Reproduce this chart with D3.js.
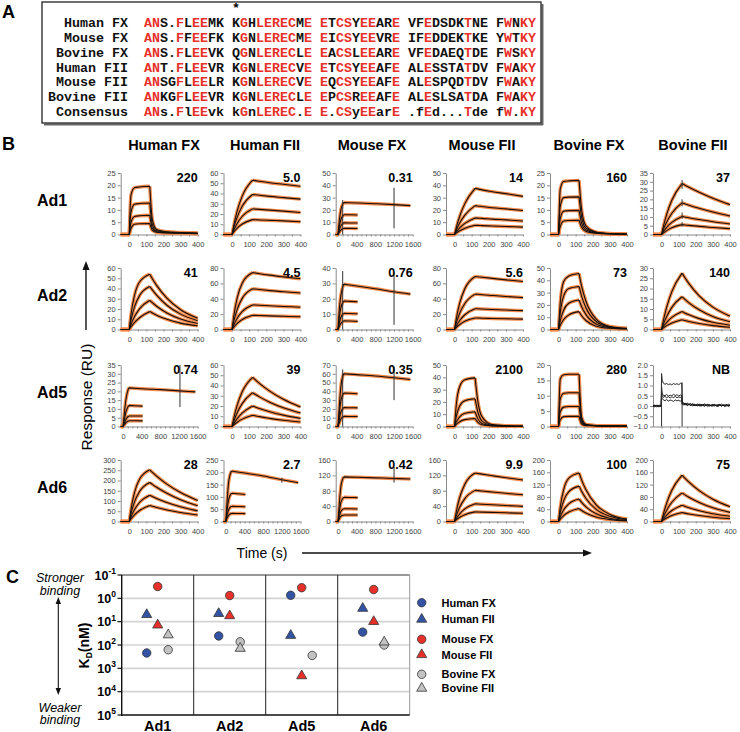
<!DOCTYPE html>
<html><head><meta charset="utf-8">
<script src="https://cdn.jsdelivr.net/npm/d3@7"></script>
<style>
body{margin:0;background:#fff}
svg{display:block}
text{font-family:"Liberation Sans",Arial,sans-serif}
.mono{font-family:"Liberation Mono","Courier New",monospace;font-weight:bold;font-size:13.33px}
.ax .domain,.ax line{stroke:#8a8a8a;stroke-width:1}
.ax text{fill:#444;font-size:7.5px;font-family:"Liberation Sans",Arial,sans-serif}
</style></head>
<body><svg id="c" width="740" height="732"></svg>
<script>
// ---------------- DATA ----------------
const seqNames = ["Human FX","Mouse FX","Bovine FX","Human FII","Mouse FII","Bovine FII","Consensus"];
const seqs = [
 "ANS.FLEEMK KGHLERECME ETCSYEEARE VFEDSDKTNE FWNKY",
 "ANS.FFEEFK KGNLERECME EICSYEEVRE IFEDDEKTKE YWTKY",
 "ANS.FLEEVK QGNLERECLE EACSLEEARE VFEDAEQTDE FWSKY",
 "ANT.FLEEVR KGNLERECVE ETCSYEEAFE ALESSTATDV FWAKY",
 "ANSGFLEELR KGNLERECVE EQCSYEEAFE ALESPQDTDV FWAKY",
 "ANKGFLEEVR KGNLERECLE EPCSREEAFE ALESLSATDA FWAKY",
 "ANs.FlEEvk kGnLEREC.E E.CSyEEarE .fEd...Tde fW.KY"];

const rowNames = ["Ad1","Ad2","Ad5","Ad6"];
const colNames = ["Human FX","Human FII","Mouse FX","Mouse FII","Bovine FX","Bovine FII"];
const kdText = [["220","5.0","0.31","14","160","37"],
                ["41","4.5","0.76","5.6","73","140"],
                ["0.74","39","0.35","2100","280","NB"],
                ["28","2.7","0.42","9.9","100","75"]];
const yTop    = [[25,60,50,50,25,35],[60,80,40,80,50,30],[35,60,70,50,20,2],[300,250,160,160,200,200]];
const yStep   = [[5,10,10,10,5,5],[10,20,10,20,10,5],[5,10,10,10,5,0.5],[50,50,40,40,40,40]];
const yBottom = [[0,0,0,0,0,0],[0,0,0,0,0,0],[0,0,0,0,0,-1],[0,0,0,0,0,0]];
const longRun = [[0,0,1,0,0,0],[0,0,1,0,0,0],[1,0,1,0,0,0],[0,1,1,0,0,0]];

const T_SHORT    = [-50,0,10,30,60,120,135,160,220,300,400];
const T_LONG_TOP = [-50,0,30,60,120,400,800,1200,1550];
const T_LONG_LOW = [-50,0,30,60,120,250,420];

const curvesAd1 = [
 [[0,0,16,19,19.3,19.6,6,2,1.1,0.8,0.6],[0,0,9,12.3,12.6,12.8,4,1.5,0.9,0.7,0.5],[0,0,4.8,7.3,7.6,7.8,2.6,1.1,0.7,0.6,0.4],[0,0,2.4,4.2,4.4,4.5,1.7,0.9,0.6,0.5,0.3]],
 [[0,0,8.8,23,37.7,53,52.6,52,50.5,49,47],[0,0,6.5,16.9,27.7,39,38.8,38.3,37.2,36,34.5],[0,0,4.2,10.8,17.8,25,24.8,24.5,23.8,22.8,21.5],[0,0,2.4,6.3,10.3,14.5,14.4,14.2,13.8,13.3,12.5]],
 [[0,0,12,20,26,25.6,25,24.3,23.5],[0,0,7,12,16,16,15.8],[0,0,4,7,9.5,9.4,9.3],[0,0,2,3.6,5,5,4.9]],
 [[0,0,5.5,14.8,25.1,37.5,37.1,36.3,34.8,33.2,31],[0,0,3.5,9.3,15.7,23.5,23.2,22.8,21.8,20.8,19.5],[0,0,2,5.3,9,13.5,13.3,13.1,12.5,11.9,11],[0,0,1.1,3,5,7.5,7.4,7.2,6.9,6.5,6]],
 [[0,0,18.5,21.6,21.8,22,10,3.5,1,0.4,0.2],[0,0,11.5,15,15.2,15.3,7,2.6,0.8,0.3,0.2],[0,0,6.5,9.5,9.7,9.8,4.6,1.8,0.6,0.3,0.1],[0,0,3.3,5.5,5.7,5.8,2.9,1.2,0.5,0.2,0.1]],
 [[0,0,4.3,11.5,19.5,29,28.2,26.9,24,20.6,17],[0,0,2.7,7.1,12.1,18,17.5,16.7,14.9,12.8,10.5],[0,0,1.5,4.1,6.9,10.3,10,9.5,8.5,7.3,6],[0,0,0.8,2.2,3.8,5.6,5.4,5.2,4.6,4,3.3]]
];
const curvesAd2 = [
 [[0,0,14.4,32.8,46.3,54,49.6,43,30.5,19.3,11],[0,0,8.9,21.8,33.1,42,38.6,33.5,23.7,15,8.6],[0,0,4.8,12.4,20.2,28.5,26.2,22.7,16.1,10.2,5.8],[0,0,2.5,6.7,11.5,17.5,16.1,13.9,9.9,6.2,3.6]],
 [[0,0,17.2,41.2,60.6,74,73.5,72.6,70.7,68.5,66],[0,0,10.5,26.3,40.8,53,52.7,52,50.6,49.2,47.5],[0,0,5.7,14.7,23.5,32,31.8,31.5,30.8,30,29],[0,0,3.1,8,13.1,18.5,18.4,18.2,17.7,17.2,16.5]],
 [[0,0,14,22,29.5,28.3,26.5,24.5,23],[0,0,8.5,14,18.5,18.3,18],[0,0,4.5,7.8,10.5,10.4,10.2],[0,0,2.3,4,5.6,5.5,5.3]],
 [[0,0,13.7,34.2,53.1,69,68.7,68,66.5,64.6,62.5],[0,0,8.2,21.2,33.8,46,45.8,45.3,44.3,43,41.5],[0,0,4.5,11.7,19.2,27,26.9,26.6,26,25.3,24.5],[0,0,2.5,6.5,10.7,15,14.9,14.7,14.4,14,13.5]],
 [[0,0,22,39,43.5,45.5,35,23,8.5,2.5,1],[0,0,13.7,27.3,33.3,35,27,17.7,6.5,2,0.8],[0,0,7.2,15.8,21.4,24,18.5,12.1,4.5,1.5,0.6],[0,0,3.4,8.1,11.9,14.5,11.2,7.3,2.7,1,0.4]],
 [[0,0,4.1,10.9,18.5,27.5,25.5,22.4,16.4,10.9,6.5],[0,0,2.4,6.3,10.8,16,14.8,13,9.6,6.3,3.8],[0,0,1.3,3.5,5.9,8.8,8.1,7.2,5.3,3.5,2.1],[0,0,0.7,1.9,3.2,4.8,4.4,3.9,2.9,1.9,1.1]]
];
const curvesAd5 = [
 [[0,0,8,15,22,21.5,21,20.3,19.7],[0,0,4,8,12,11.8,11.6],[0,0,2,4,6,6,6],[0,0,1,2.1,3.3,3.3,3.2]],
 [[0,0,8,20.8,34.1,48,45.7,42,34.5,26.5,19],[0,0,5.1,13.5,22.6,33,31.4,28.9,23.7,18.2,13.1],[0,0,2.8,7.7,13.2,20,19,17.5,14.4,11.1,7.9],[0,0,1.6,4.2,7.2,11,10.5,9.6,7.9,6.1,4.4]],
 [[0,0,25,45,60,59,57.5,55.5,53.5],[0,0,16,29,38,37.8,37.2],[0,0,9,16.5,21.5,21.4,21.2],[0,0,4.5,8.5,11.5,11.4,11.3]],
 [[0,0,17.5,32.5,38,39.5,21.5,8,1.5,0.6,0.3],[0,0,8.1,16.7,21,22.5,12.4,4.6,1,0.5,0.2],[0,0,3.6,7.9,10.7,12,6.6,2.5,0.6,0.3,0.1],[0,0,1.7,3.9,5.6,6.5,3.6,1.4,0.4,0.2,0.1]],
 [[0,0,15.5,16.8,17,17,3,0.7,0.3,0.2,0.2],[0,0,9,10.8,11,11,2,0.5,0.3,0.2,0.1],[0,0,4.8,6.3,6.5,6.5,1.3,0.4,0.2,0.1,0.1],[0,0,2.2,3.2,3.3,3.3,0.8,0.3,0.2,0.1,0.1]],
 []
];
const curvesAd6 = [
 [[0,0,58.7,140,206,252,240,221.5,182.5,141,102],[0,0,37.8,94.2,146,190,181,167,137.6,106,77],[0,0,22.2,57.2,92.6,128,122,112.5,92.7,71.5,51.8],[0,0,12,31.9,53.5,78,74.3,68.6,56.5,43.6,31.6]],
 [[0,0,90,160,205,197,185,170,158],[0,0,50,88,115,113,110],[0,0,27,48,62,61,60],[0,0,14,25,33,32.5,32]],
 [[0,0,50,90,116,115,113.5,112,110.5],[0,0,27,49,63,62.5,62],[0,0,14,26,33,33,32.5],[0,0,7.5,13.5,17,17,16.8]],
 [[0,0,25,62.5,97,126,125,123.2,119.2,114,108],[0,0,14.5,37.3,59.5,81,80.4,79.2,76.6,73.3,69.4],[0,0,7.7,20,32.7,46,45.6,45,43.5,41.6,39.4],[0,0,4.2,10.9,17.8,25,24.8,24.5,23.7,22.6,21.4]],
 [[0,0,47.3,104,141,158,134.6,103,54.2,23,8],[0,0,29.1,67.7,97,115,98,75,39.4,16.8,5.8],[0,0,15.5,38,57.6,73,62.2,47.6,25,10.7,3.7],[0,0,7.5,19.3,30.8,42,35.8,27.4,14.4,6.1,2.1]],
 [[0,0,22.3,59.8,101.5,151,141.9,128.2,100.3,72.2,48],[0,0,13.8,36.8,62.5,93,87.4,79,61.8,44.5,29.6],[0,0,7.8,21,35.6,53,49.8,45,35.2,25.3,16.9],[0,0,4.3,11.5,19.5,29,27.3,24.6,19.3,13.9,9.2]]
];
const curvesAll = [curvesAd1, curvesAd2, curvesAd5, curvesAd6];

// vertical artefact spikes: [time, yFrom, yTo]
const spikesAd1 = [[],[],[[100,0,28],[1200,5,38]],[],[],[[120,26,31],[120,16,20],[120,9,12.5],[120,4.5,7]]];
const spikesAd2 = [[],[],[[100,0,38],[1200,3,37]],[],[],[]];
const spikesAd5 = [[[1220,11,35]],[],[[100,0,65],[1200,30,68]],[],[],[[0,-1,1.6],[120,-1,1.15]]];
const spikesAd6 = [[],[[1200,158,178]],[[1200,101,142]],[],[],[]];
const spikesAll = [spikesAd1, spikesAd2, spikesAd5, spikesAd6];

// non-binding (NB) raw traces, Ad5 / Bovine FII
const nbTimes = [-50,-40,-30,-20,-10,-2,0,4,10,20,30,40,50,60,70,80,90,100,110,118,121,130,140,150,160,170,180,190,200,210,220,230,240,250,260,270,280,290,300,310,320,330,340,350,360,370,380,390,400];
const nb1 = [0.02,-0.05,0.04,-0.02,0.05,-0.03,1.55,1.25,1.12,1.06,1.1,1.04,1.08,1.03,1.1,1.05,1.09,1.04,1.1,1.12,0.2,0.15,0.1,0.14,0.08,0.12,0.05,0.1,0.04,0.09,0.02,0.08,0.05,0.1,0.03,0.07,0.0,0.06,0.04,0.08,0.01,0.07,0.03,0.09,0.02,0.06,0.0,0.08,0.05];
const nb2 = [0.01,0.03,-0.04,0.02,-0.03,0.04,0.95,0.6,0.52,0.5,0.56,0.48,0.53,0.5,0.57,0.51,0.55,0.49,0.54,0.52,0.12,0.08,0.13,0.04,0.1,0.02,0.09,0.0,0.07,0.03,0.1,-0.02,0.06,0.01,0.08,-0.03,0.05,0.02,0.09,-0.01,0.06,0.0,0.07,-0.02,0.05,0.03,0.08,-0.01,0.04];
const nb3 = [-0.02,0.04,0.01,-0.04,0.02,0.0,0.7,0.5,0.42,0.47,0.4,0.46,0.39,0.45,0.41,0.47,0.4,0.44,0.42,0.46,0.08,0.14,0.05,0.1,0.07,0.03,0.11,0.05,0.02,0.08,0.0,0.06,0.03,0.09,0.01,0.05,0.07,-0.01,0.04,0.06,0.0,0.05,0.08,0.02,0.04,-0.02,0.06,0.03,0.01];
const nb4 = [0.03,-0.02,0.02,0.04,-0.04,0.02,0.45,0.35,0.3,0.26,0.31,0.24,0.29,0.27,0.22,0.3,0.25,0.28,0.23,0.3,0.1,0.05,0.09,0.02,0.07,0.1,0.0,0.06,0.04,0.0,0.07,0.02,0.05,-0.02,0.04,0.08,0.01,0.03,-0.01,0.05,0.02,-0.03,0.04,0.01,0.06,-0.02,0.03,0.0,0.02];
const nbTraces = [nb1, nb2, nb3, nb4];

// Panel C: KD (nM)
const kdGroups = ["Ad1","Ad2","Ad5","Ad6"];
const kdSeries = ["Human FX","Human FII","Mouse FX","Mouse FII","Bovine FX","Bovine FII"];
const kdHumanFX  = [220, 41, 0.74, 28];
const kdHumanFII = [5.0, 4.5, 39, 2.7];
const kdMouseFX  = [0.31, 0.76, 0.35, 0.42];
const kdMouseFII = [14, 5.6, 2100, 9.9];
const kdBovineFX = [160, 73, 280, 100];
const kdBovineFII= [37, 140, null, 75];
const kdValues = [kdHumanFX, kdHumanFII, kdMouseFX, kdMouseFII, kdBovineFX, kdBovineFII];
const kdTicks = [0.1, 1, 10, 100, 1000, 10000, 100000];
const kdTickExp = ["-1","0","1","2","3","4","5"];

// ---------------- DRAW ----------------
const svg = d3.select("#c");
const RED = "#e8302a", BLUE = "#3353a4", GRAY = "#c2c2c2", ORANGE = "#f5894a";

function plabel(t,x,y){ svg.append("text").attr("x",x).attr("y",y).attr("font-size",18).attr("font-weight","bold").text(t); }

// ---- Panel A ----
plabel("A",2,18);
svg.append("line").attr("x1",44).attr("y1",124.5).attr("x2",543).attr("y2",124.5).attr("stroke","#666").attr("stroke-width",2);
svg.append("line").attr("x1",542.5).attr("y1",4).attr("x2",542.5).attr("y2",125).attr("stroke","#666").attr("stroke-width",2);
svg.append("rect").attr("x",42).attr("y",2).attr("width",499).attr("height",121).attr("fill","#fff").attr("stroke","#222").attr("stroke-width",1.3);
const CW = 8.0, SX = 144;
svg.append("text").attr("class","mono").attr("x",SX+11*CW+CW/2).attr("y",12).attr("font-size",12).attr("text-anchor","middle").text("*");
const cons = seqs[seqs.length-1];
seqNames.forEach((nm,i)=>{
  const yy = 27.3 + i*14.75;
  svg.append("text").attr("class","mono").attr("x",128).attr("y",yy).attr("text-anchor","end").attr("fill","#111").text(nm);
  const t = svg.append("text").attr("class","mono").attr("y",yy);
  seqs[i].split("").forEach((ch,k)=>{
    const cc = cons[k];
    const red = cc>="A" && cc<="Z";
    t.append("tspan").attr("x",SX+k*CW).attr("fill",red?RED:"#111").text(ch);
  });
});

// ---- Panel B ----
plabel("B",2,150);
const colLeft = [120.7,223.5,335.7,446,550,653];
const rowTopPx = [173,268,365,460];
const PW = 77, PH = 61.5;
const colCenter = [164,265,372,482,589,693];
colNames.forEach((n,c)=>svg.append("text").attr("x",colCenter[c]).attr("y",150).attr("text-anchor","middle")
  .attr("font-size",14.5).attr("font-weight","bold").text(n));
rowNames.forEach((n,r)=>svg.append("text").attr("x",52).attr("y",rowTopPx[r]+33).attr("text-anchor","middle")
  .attr("font-size",16).attr("font-weight","bold").text(n));

function segmented(pts, line){
  const segs=[]; let cur=[pts[0]];
  for(let i=1;i<pts.length;i++){ cur.push(pts[i]); if(pts[i][0]===0||pts[i][0]===120){segs.push(cur); cur=[pts[i]];} }
  if(cur.length>1) segs.push(cur);
  return segs.map(s=>line(s)).join("");
}

for(let r=0;r<4;r++) for(let c=0;c<6;c++){
  const x0 = colLeft[c], y0 = rowTopPx[r];
  const isLong = longRun[r][c]===1;
  const x = d3.scaleLinear().domain(isLong?[-50,1600]:[-50,400]).range([x0,x0+PW]);
  const y = d3.scaleLinear().domain([yBottom[r][c], yTop[r][c]]).range([y0+PH,y0]);
  const g = svg.append("g");
  const st = yStep[r][c];
  const yt = d3.range(yBottom[r][c], yTop[r][c]+st/2, st);
  g.append("g").attr("class","ax").attr("transform",`translate(${x0},0)`)
    .call(d3.axisLeft(y).tickValues(yt).tickSize(3).tickPadding(2).tickSizeOuter(0)
    .tickFormat(st<1?d3.format(".1f"):d3.format("d")));
  const xt = isLong? d3.range(0,1601,100) : d3.range(0,401,50);
  g.append("g").attr("class","ax").attr("transform",`translate(0,${y0+PH})`)
    .call(d3.axisBottom(x).tickValues(xt).tickSize(2).tickPadding(5).tickSizeOuter(0)
    .tickFormat(v=> (isLong? v%400===0 : v%100===0) ? v : ""));
  const line = d3.line().x(d=>x(d[0])).y(d=>y(d[1])).curve(d3.curveMonotoneX);
  const cs = curvesAll[r][c];
  if(cs.length){
    const paths = cs.map((ys,k)=>{
      const ts = isLong ? (k===0?T_LONG_TOP:T_LONG_LOW) : T_SHORT;
      return segmented(ts.map((t,i)=>[t,ys[i]]), line);
    });
    paths.forEach(p=>g.append("path").attr("d",p).attr("fill","none").attr("stroke",ORANGE).attr("stroke-width",3.4).attr("stroke-linejoin","round"));
    paths.forEach(p=>g.append("path").attr("d",p).attr("fill","none").attr("stroke","#111").attr("stroke-width",1.1).attr("stroke-linejoin","round"));
  } else {
    const lin = d3.line().x(d=>x(d[0])).y(d=>y(d[1]));
    nbTraces.forEach(tr=>g.append("path").attr("d",lin(nbTimes.map((t,i)=>[t,tr[i]]))).attr("fill","none").attr("stroke","#111").attr("stroke-width",0.9));
  }
  spikesAll[r][c].forEach(s=>g.append("line").attr("x1",x(s[0])).attr("x2",x(s[0])).attr("y1",y(s[1])).attr("y2",y(s[2]))
    .attr("stroke","#333").attr("stroke-width",1));
  g.append("text").attr("x",x0+PW).attr("y",y0+9).attr("text-anchor","end").attr("font-size",12.5).attr("font-weight","bold").text(kdText[r][c]);
}
// axis titles
svg.append("text").attr("transform","translate(92,397) rotate(-90)").attr("text-anchor","middle").attr("font-size",15.5).text("Response (RU)");
svg.append("line").attr("x1",86).attr("y1",330).attr("x2",86).attr("y2",268).attr("stroke","#111").attr("stroke-width",1.4);
svg.append("path").attr("d","M86,261 L82.5,270 L89.5,270 Z").attr("fill","#111");
svg.append("text").attr("x",262).attr("y",558).attr("text-anchor","middle").attr("font-size",14).text("Time (s)");
svg.append("line").attr("x1",302).attr("y1",553).attr("x2",584).attr("y2",553).attr("stroke","#111").attr("stroke-width",1.4);
svg.append("path").attr("d","M592,553 L583,549.5 L583,556.5 Z").attr("fill","#111");

// ---- Panel C ----
plabel("C",6,583);
const yC = d3.scaleLog().domain([0.1,1e5]).range([575,715]);
const xC = d3.scaleBand().domain(kdGroups).range([121.7,409.7]);
const gc = svg.append("g");
kdTicks.slice(1,-1).forEach(v=>gc.append("line").attr("x1",121.7).attr("x2",409.7).attr("y1",yC(v)).attr("y2",yC(v)).attr("stroke","#d4d4d4").attr("stroke-width",1.6));
gc.append("line").attr("x1",121.7).attr("x2",409.7).attr("y1",575).attr("y2",575).attr("stroke","#333").attr("stroke-width",1);
gc.append("line").attr("x1",409.7).attr("x2",409.7).attr("y1",575).attr("y2",715).attr("stroke","#999").attr("stroke-width",1);
kdGroups.slice(1).forEach(gn=>gc.append("line").attr("x1",xC(gn)).attr("x2",xC(gn)).attr("y1",575).attr("y2",715).attr("stroke","#222").attr("stroke-width",1));
gc.append("line").attr("x1",121.7).attr("x2",121.7).attr("y1",575).attr("y2",716).attr("stroke","#111").attr("stroke-width",1.4);
gc.append("line").attr("x1",121).attr("x2",409.7).attr("y1",715).attr("y2",715).attr("stroke","#111").attr("stroke-width",1.6);
kdTicks.forEach((v,i)=>{
  gc.append("line").attr("x1",117.5).attr("x2",121.7).attr("y1",yC(v)).attr("y2",yC(v)).attr("stroke","#111").attr("stroke-width",1.2);
  const t = gc.append("text").attr("x",116).attr("y",yC(v)+4.5).attr("text-anchor","end").attr("font-weight","bold").attr("font-size",12.5);
  t.append("tspan").text("10");
  t.append("tspan").attr("dy",-5.5).attr("font-size",8.5).text(kdTickExp[i]);
});
kdGroups.forEach(gn=>gc.append("text").attr("x",xC(gn)+xC.bandwidth()/2).attr("y",731).attr("text-anchor","middle")
  .attr("font-size",14.5).attr("font-weight","bold").text(gn));
const kdLab = gc.append("text").attr("transform","translate(89,645.5) rotate(-90)").attr("text-anchor","middle").attr("font-weight","bold").attr("font-size",14);
kdLab.append("tspan").text("K");
kdLab.append("tspan").attr("font-size",8.5).attr("dy",3).text("D");
kdLab.append("tspan").attr("dy",-3).text("(nM)");
[["Stronger",582],["binding",595],["Weaker",711.5],["binding",723.5]].forEach(d=>gc.append("text").attr("x",60).attr("y",d[1])
  .attr("text-anchor","middle").attr("font-style","italic").attr("font-size",12.5).text(d[0]));
gc.append("line").attr("x1",58.3).attr("x2",58.3).attr("y1",602).attr("y2",690).attr("stroke","#111").attr("stroke-width",1.1);
gc.append("path").attr("d","M58.3,597 L55.6,604 L61,604 Z M58.3,695 L55.6,688 L61,688 Z").attr("fill","#111");

const speciesOff = {Human:-11, Mouse:0, Bovine:10.5};
const sColor = {Human:BLUE, Mouse:RED, Bovine:GRAY};
const circ = d3.symbol().type(d3.symbolCircle).size(56);
const tri = d3.symbol().type(d3.symbolTriangle).size(44);
kdSeries.forEach((sn,si)=>{
  const sp = sn.split(" ")[0], isFX = sn.endsWith("FX");
  kdValues[si].forEach((v,gi)=>{
    if(v==null) return;
    const cx = xC(kdGroups[gi])+xC.bandwidth()/2+speciesOff[sp];
    gc.append("path").attr("d",(isFX?circ:tri)()).attr("transform",`translate(${cx},${yC(v)})`)
      .attr("fill",sColor[sp]).attr("stroke","#333").attr("stroke-width",0.8);
  });
});
const legY = [602.7,619.3,639.3,654.7,674.3,688.3];
kdSeries.forEach((sn,si)=>{
  const sp = sn.split(" ")[0], isFX = sn.endsWith("FX");
  gc.append("path").attr("d",(isFX?circ:tri)()).attr("transform",`translate(421.7,${legY[si]})`)
    .attr("fill",sColor[sp]).attr("stroke","#333").attr("stroke-width",0.8);
  gc.append("text").attr("x",441.5).attr("y",legY[si]+4).attr("font-size",11).attr("font-weight","bold").text(sn);
});
</script></body></html>
